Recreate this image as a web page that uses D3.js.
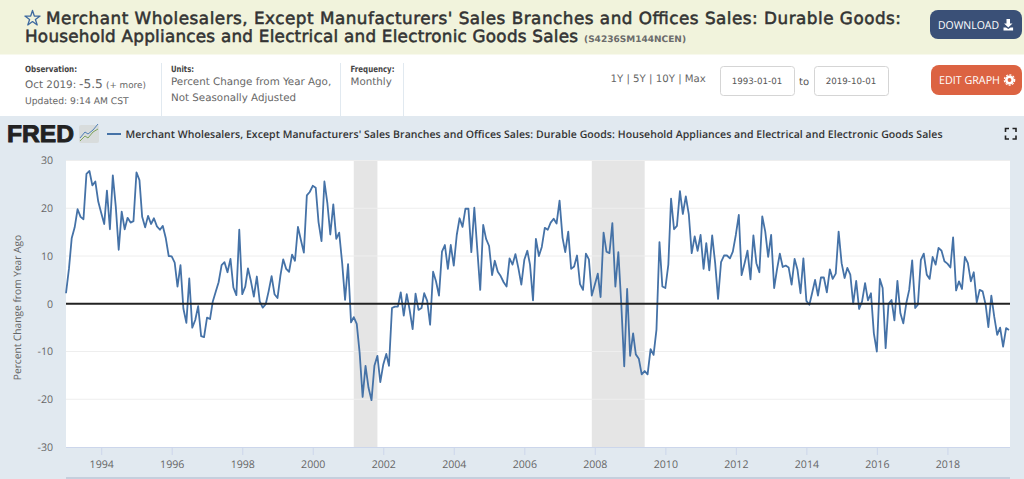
<!DOCTYPE html>
<html><head><meta charset="utf-8">
<script src="https://cdn.jsdelivr.net/npm/d3@7"></script>
<style>
html,body{margin:0;padding:0;background:#fff;width:1024px;height:479px;overflow:hidden}
svg{display:block}
text{text-rendering:geometricPrecision}
</style></head><body><svg id="c" width="1024" height="479"></svg>
<script>
const yTicks=[-30,-20,-10,0,10,20,30];
const xTickYears=[1994,1996,1998,2000,2002,2004,2006,2008,2010,2012,2014,2016,2018];
const recessionStarts=["2001-03-01","2007-12-01"];
const recessionEnds=["2001-11-01","2009-06-01"];
const seriesStart="1993-01-01";
const seriesEnd="2019-10-01";
const seriesName="Merchant Wholesalers, Except Manufacturers' Sales Branches and Offices Sales: Durable Goods: Household Appliances and Electrical and Electronic Goods Sales";
const pctChange=[
2.2,7.4,13.7,16,19.8,18.2,17.7,27.2,27.8,24.8,25.6,21.4,
19,16.7,23.7,15.6,26.9,20.3,11.3,19.3,15.6,18,17,17.3,
27.5,25.9,18.2,16,18.4,16.7,17.9,16.2,15.5,16.3,13.7,10,
9.9,8.6,3.6,8.1,-1,-4,5.3,-5,-3.4,-0.5,-6.8,-7,
-2.9,-3.2,0.4,2.5,4.5,8.1,8.7,6.6,9.4,3.4,1.8,15.5,
2,3.6,7.4,4.7,1.5,5.7,0.5,-0.8,-0.1,2.6,5.8,2,
1.2,6,9.3,7.3,6.7,10.3,9,16.1,13.3,10.7,22.7,23.4,
24.7,24.3,17.1,13.1,25.6,21,14.5,20.8,13.6,14.9,8.5,0.8,
8.3,-3.9,-2.8,-4.2,-10.3,-19.5,-13,-17.6,-20.2,-13,-10.9,-16.4,
-12.7,-10.5,-13,-0.9,-0.6,-0.6,2.4,-2.5,2,-1.3,-5.3,2.1,
-1.3,-0.9,2.2,0.6,-4.4,6.7,4.7,1.7,10.9,12.3,7.3,12.3,
8,14.4,17.9,16.1,19.9,19.9,10.8,20.1,11.3,2.9,16.5,13.6,
12.1,6,9,6.7,5.8,4.5,3.6,9.5,8.2,10.4,7.4,4,
9.2,11.1,8.2,0.7,13.6,10,11.9,15.9,15.5,17,17.8,16.8,
21.6,13.8,10.8,15.1,7.3,7.8,10.1,4.1,2.9,10.5,9.3,1.7,
4,6.3,1.4,14.9,10.9,10.6,16.9,3.6,10.8,0.1,-13.1,3.1,
-10.9,-6.2,-10.6,-11.5,-14.8,-14.1,-14.8,-9.5,-10.7,-5.4,12.9,3.6,
3.3,8.2,22,15.6,16.3,23.6,18.8,22.5,18.7,10.6,14.1,11.1,
14.4,7.3,12.7,7,14.3,8.5,1,8.7,10.1,10.1,9.5,10.9,
14.4,18.6,6,8.5,11.1,5.1,14.3,8.5,6.6,18.3,15.1,9.8,
14.4,3.3,7,10.5,7.7,8,7.6,4,9.4,7.1,2.2,9.5,
0.6,-0.2,2.2,5,1.7,5.5,5.5,2.4,7.2,5.2,6.3,15.1,
8.5,5.4,7.5,6.1,0,4.8,-1.1,0.5,4.3,0.7,2.2,-6.2,
-10,5.2,3.3,-9.3,0,0.8,-3.5,4.8,-2,-4.1,0.1,2.9,
9.1,-0.9,-0.2,9.2,10.5,6.1,5.2,9.8,8.2,11.7,11.1,8.9,
8.4,7.6,13.9,2.8,4.7,3.1,9.8,8.5,4.7,6.6,0.3,2.9,
2.6,-0.2,-4.9,1.7,-2.7,-6.5,-5,-9,-5.1,-5.5
];

const svg=d3.select("#c");
const sans="'Open Sans',sans-serif", vera="'DejaVu Sans',sans-serif";
const P={l:66,r:1010,t:160.5,b:447};
const parse=d3.utcParse("%Y-%m-%d");
const months=d3.utcMonth.range(parse(seriesStart),d3.utcMonth.offset(parse(seriesEnd),1));
const x=d3.scaleUtc().domain([parse(seriesStart),parse(seriesEnd)]).range([P.l,P.r-1]);
const y=d3.scaleLinear().domain([-30,30]).range([P.b,P.t]);

// header band
svg.append("rect").attr("width",1024).attr("height",54.5).attr("fill","#f1f3dc");
// star
const star=d3.symbol().type(d3.symbolStar).size(72)();
svg.append("path").attr("d",star).attr("transform","translate(32.5,18.5)").attr("fill","none").attr("stroke","#3f6a9f").attr("stroke-width",1.3).attr("stroke-linejoin","round");
const title=svg.append("g").attr("font-family",vera).attr("font-weight",400).attr("font-size",16.8).attr("fill","#333").attr("stroke","#333").attr("stroke-width",.55);
title.append("text").attr("x",46).attr("y",24).attr("textLength",855).attr("lengthAdjust","spacing").text("Merchant Wholesalers, Except Manufacturers' Sales Branches and Offices Sales: Durable Goods:");
title.append("text").attr("x",25).attr("y",42).attr("textLength",553).attr("lengthAdjust","spacing").text("Household Appliances and Electrical and Electronic Goods Sales");
svg.append("text").attr("x",584).attr("y",41.5).attr("font-family",vera).attr("font-weight",700).attr("font-size",9).attr("fill","#6b6b6b").attr("textLength",102).text("(S4236SM144NCEN)");

function button(bx,by,w,h,fill,label,tx,len){
  svg.append("rect").attr("x",bx).attr("y",by).attr("width",w).attr("height",h).attr("rx",8).attr("fill",fill);
  svg.append("text").attr("x",tx).attr("y",by+h/2+4).attr("font-family",sans).attr("font-size",11).attr("fill","#fff").attr("textLength",len).attr("lengthAdjust","spacingAndGlyphs").text(label);
}
button(930,10,92,29,"#3a5077","DOWNLOAD",938,61);
// download icon
svg.append("path").attr("d","M1006.5 19h3.5v4.5h2.5l-4.2 4-4.2-4h2.4zM1003.5 27.5h2.5l2.3 1.6 2.3-1.6h2.5v3h-9.6z").attr("fill","#fff");
button(931,65,91,30,"#dc6342","EDIT GRAPH",939,61);
// gear icon
svg.append("circle").attr("cx",1009.5).attr("cy",80).attr("r",3.2).attr("fill","none").attr("stroke","#fff").attr("stroke-width",2.6);
svg.append("circle").attr("cx",1009.5).attr("cy",80).attr("r",5.2).attr("fill","none").attr("stroke","#fff").attr("stroke-width",1.2).attr("stroke-dasharray","2 1.4");

// info block
function lab(x0,y0,s,size,fill,w,len){
  const t=svg.append("text").attr("x",x0).attr("y",y0).attr("font-family",vera).attr("font-size",size).attr("fill",fill).text(s);
  if(w)t.attr("font-weight",w);
  if(len)t.attr("textLength",len).attr("lengthAdjust","spacingAndGlyphs");
  return t;
}
lab(25,71.5,"Observation:",8.6,"#444",700,52);
lab(25,88,"Oct 2019:",10.4,"#666");
lab(79,88,"-5.5",12.2,"#666");
lab(106,88,"(+ more)",8.8,"#666");
lab(25,104,"Updated: 9:14 AM CST",9.2,"#666");
lab(171,71.5,"Units:",8.6,"#444",700,23);
lab(171,85,"Percent Change from Year Ago,",10.3,"#666");
lab(171,101,"Not Seasonally Adjusted",10.3,"#666");
lab(350.5,71.5,"Frequency:",8.6,"#444",700,44);
lab(350.5,85,"Monthly",10.3,"#666");
[161.5,340.5,403.5].forEach(v=>svg.append("line").attr("x1",v).attr("x2",v).attr("y1",63).attr("y2",116).attr("stroke","#e1e9f0"));

lab(610.5,82,"1Y | 5Y | 10Y | Max",10.2,"#666");
function box(bx,s){
  svg.append("rect").attr("x",bx+.5).attr("y",66.5).attr("width",74).attr("height",29).attr("rx",3).attr("fill","#fff").attr("stroke","#d5d5d5");
  lab(bx+37,84,s,8.7,"#555").attr("text-anchor","middle");
}
box(720,seriesStart); box(814,seriesEnd);
lab(799,85,"to",10,"#555");

// chart background
svg.append("rect").attr("y",116).attr("width",1024).attr("height",363).attr("fill","#e1e9f0");
svg.append("rect").attr("x",P.l).attr("y",477).attr("width",P.r-P.l).attr("height",2).attr("fill","#c5cfdd");
svg.append("rect").attr("x",P.l).attr("y",P.t).attr("width",P.r-P.l).attr("height",P.b-P.t).attr("fill","#fff");

// logo
svg.append("text").attr("x",7).attr("y",142).attr("font-family","'Liberation Sans',sans-serif").attr("font-weight",700).attr("font-size",24).attr("fill","#222").attr("stroke","#222").attr("stroke-width",.9).attr("textLength",67).attr("lengthAdjust","spacingAndGlyphs").text("FRED");
svg.append("rect").attr("x",79).attr("y",125).attr("width",20).attr("height",18).attr("rx",2).attr("fill","#d8dcdc");
svg.append("path").attr("d","M80 141l5-5 3 2 5-6 5-3").attr("fill","none").attr("stroke","#7fa35c").attr("stroke-width",1);
svg.append("path").attr("d","M80 138l5-6 3 2 5-4 5-6").attr("fill","none").attr("stroke","#4f7fb5").attr("stroke-width",1);

// legend
svg.append("line").attr("x1",107).attr("x2",121).attr("y1",134).attr("y2",134).attr("stroke","#4572a7").attr("stroke-width",2);
svg.append("text").attr("x",125.5).attr("y",138).attr("font-family",sans).attr("font-weight",600).attr("font-size",10.5).attr("fill","#333").attr("textLength",817).attr("lengthAdjust","spacing").text(seriesName);
// fullscreen icon
svg.append("path").attr("d","M1005.5 132v-3.5h3.5M1012.5 128.5h3.5v3.5M1016 135.5v3.5h-3.5M1009 139h-3.5v-3.5").attr("fill","none").attr("stroke","#222").attr("stroke-width",1.6);

// recessions
svg.append("g").selectAll("rect").data(recessionStarts).join("rect")
  .attr("x",d=>x(parse(d))).attr("y",P.t)
  .attr("width",(d,i)=>x(parse(recessionEnds[i]))-x(parse(d))).attr("height",P.b-P.t).attr("fill","#e5e5e5");

// grid
const gridG=svg.append("g");
gridG.selectAll("line").data(yTicks.filter(v=>v!==-30&&v!==30&&v!==0)).join("line")
  .attr("x1",P.l).attr("x2",P.r).attr("y1",d=>y(d)).attr("y2",d=>y(d)).attr("stroke","#eeeeee").attr("stroke-width",1);
svg.append("line").attr("x1",P.l).attr("x2",P.r).attr("y1",y(30)).attr("y2",y(30)).attr("stroke","#eeeeee");

// y axis
const yAxis=d3.axisLeft(y).tickValues(yTicks).tickSize(0).tickPadding(0).tickFormat(d3.format("d"));
const ya=svg.append("g").attr("transform",`translate(53,0)`).call(yAxis);
ya.select(".domain").remove();
ya.selectAll("text").attr("font-family",sans).attr("font-size",10.6).attr("fill","#666").text(d=>d);
svg.append("text").attr("transform","translate(21,307.5) rotate(-90)").attr("text-anchor","middle").attr("font-family",sans).attr("font-size",10.2).attr("fill","#666").text("Percent Change from Year Ago");

// x axis
const xAxis=d3.axisBottom(x).tickValues(xTickYears.map(v=>new Date(Date.UTC(v,0,1)))).tickSize(8).tickPadding(5.5).tickFormat(d3.utcFormat("%Y"));
const xa=svg.append("g").attr("transform",`translate(0,${P.b})`).call(xAxis);
xa.select(".domain").attr("d",`M${P.l},0.5H${P.r}`).attr("stroke","#ccd6eb");
xa.selectAll("line").attr("stroke","#ccd6eb");
xa.selectAll("text").attr("font-family",sans).attr("font-size",10.6).attr("fill","#666");

// series
const line=d3.line().x((d,i)=>x(months[i])).y(d=>y(d));
svg.append("path").datum(pctChange).attr("d",line).attr("fill","none").attr("stroke","#4572a7").attr("stroke-width",1.8).attr("stroke-linejoin","round");
// zero line
svg.append("line").attr("x1",P.l).attr("x2",P.r).attr("y1",y(0)).attr("y2",y(0)).attr("stroke","#222").attr("stroke-width",2);
</script></body></html>
